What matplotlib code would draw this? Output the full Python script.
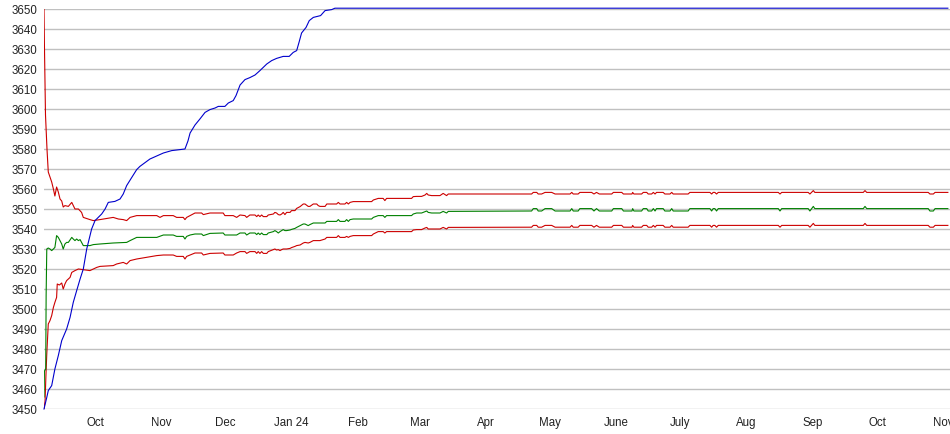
import pandas as pd
import matplotlib
matplotlib.use("Agg")
import matplotlib.pyplot as plt

# x values are days since the first observation
start = pd.Timestamp("2023-09-07")
x_end_day = 424.2

# upper band (red), early part
upper_early_day = [0.0, 0.2, 0.7, 1.4, 2.0, 3.6, 4.4, 5.1, 5.9, 6.7, 7.5, 8.3, 9.0, 9.8, 11.4,
                   13.0, 14.5, 16.1, 17.6, 18.4, 21.5, 23.1, 26.2, 32.4, 34.8, 37.1, 38.7, 40.3,
                   43.4, 52.8, 54.3, 55.9, 60.5, 62.1, 65.2, 66.0, 66.8, 68.4, 70.7, 73.8, 74.6, 77.7]
upper_early = [3650, 3632, 3597, 3580, 3568.5, 3563.5, 3560, 3556.5, 3561, 3558.5, 3555, 3554,
               3551, 3551.7, 3551.3, 3553.3, 3550, 3550, 3548.3, 3545.8, 3544.7, 3544.2, 3544.7,
               3545.8, 3545, 3544.7, 3544.2, 3545.8, 3546.7, 3546.7, 3545.8, 3546.7, 3546.7,
               3545.8, 3545.8, 3544.7, 3545.8, 3546.7, 3548, 3548, 3547.2, 3548]

# middle (green), early part
mid_early_day = [0.0, 0.2, 0.8, 1.0, 1.3, 2.0, 2.8, 3.6, 4.4, 5.1, 5.9, 6.7, 7.5, 8.3, 9.0, 9.8,
                 10.6, 11.4, 13.0, 13.7, 14.5, 15.3, 16.1, 16.9, 17.6, 18.4, 21.5, 23.1, 26.2,
                 32.4, 38.7, 40.3, 43.4, 52.8, 55.9, 60.5, 62.1, 65.2, 66.0, 66.8, 68.4, 70.7,
                 73.8, 74.6, 77.7]
mid_early = [3456, 3469, 3470, 3507, 3530, 3530.5, 3530, 3529.2, 3530, 3530.8, 3536.7, 3535.8,
             3534.2, 3532.5, 3530, 3532.5, 3533.3, 3533.3, 3535.8, 3535, 3534.2, 3535, 3534.2,
             3534.7, 3533.3, 3531.7, 3531.7, 3532.2, 3532.5, 3533, 3533.3, 3534.2, 3535.8,
             3535.8, 3537, 3537, 3536.3, 3536.3, 3535, 3536.3, 3537, 3537.5, 3537.5, 3536.7, 3537.8]

# lower band (red), early part
low_early_day = [0.0, 0.5, 0.9, 1.3, 1.7, 2.0, 2.8, 3.6, 4.4, 5.1, 5.9, 6.2, 7.2, 8.3, 9.0, 9.8,
                 10.6, 12.2, 13.0, 14.5, 16.1, 21.5, 24.7, 26.2, 32.4, 34.0, 37.1, 38.7, 40.3,
                 43.4, 52.8, 55.9, 60.5, 62.1, 65.2, 66.0, 66.8, 68.4, 70.7, 73.8, 74.6, 77.7]
low_early = [3450, 3454, 3466.7, 3477.5, 3486.7, 3492.5, 3494.2, 3496.7, 3500.8, 3503.3, 3505.8,
             3512.5, 3512, 3513, 3510, 3512.5, 3514.2, 3515.8, 3518.3, 3519.2, 3520, 3519.2,
             3520.8, 3521.3, 3521.7, 3522.5, 3523.3, 3522.5, 3524.2, 3525, 3526.7, 3527, 3527,
             3526.3, 3526.3, 3525, 3526.3, 3527, 3528, 3528, 3527, 3527.8]

# the three band lines share sample days from December on
tail_day = [83.9, 84.7, 88.6, 90.2, 91.8, 94.1, 94.9, 96.4, 98.8, 99.6, 100.3, 101.1, 101.9, 102.7,
            104.3, 105.0, 107.4, 108.1, 108.9, 109.7, 110.5, 111.3, 112.0, 112.8, 113.6, 115.2,
            115.9, 117.5, 118.3, 119.9, 121.4, 122.2, 123.7, 124.5, 126.1, 127.7, 128.4, 129.2,
            131.6, 132.4, 137.0, 137.8, 138.6, 140.9, 141.7, 142.5, 143.3, 144.8, 153.4, 154.2,
            156.5, 158.8, 159.6, 160.4, 172.1, 172.9, 174.5, 176.8, 178.4, 179.2, 179.9, 181.5,
            185.4, 186.9, 188.5, 189.3,
            228.3, 229.1, 230.7, 231.4, 233.0, 234.6, 237.7, 239.3, 246.3, 247.1, 247.8, 250.1,
            250.9, 256.4, 257.5, 258.7, 260.0, 265.8, 266.6, 270.5, 271.3, 275.3, 275.6, 276.2,
            279.8, 280.6, 282.2, 282.9, 284.5, 285.3, 286.1, 286.8, 289.9, 290.7, 293.1, 293.9,
            294.6, 301.6, 302.4, 311.8, 312.6, 313.3, 314.1, 314.9, 315.7, 343.8, 344.6, 345.4,
            357.8, 358.6, 360.2, 360.9, 383.6, 384.4, 385.2, 414.0, 414.8, 416.4, 417.2, 423.2]
upper_tail = [3548, 3546.7, 3546.7, 3545.8, 3547, 3546.7, 3545.8, 3547, 3547, 3546.2, 3547, 3546.2,
              3547, 3546.2, 3546.2, 3547, 3547.5, 3548.3, 3548, 3547.2, 3547, 3547.5, 3548.3,
              3547.2, 3548.3, 3548.3, 3549.2, 3549.2, 3550.3, 3551.2, 3552.5, 3552.5, 3551.3,
              3551.3, 3552.5, 3552.5, 3551.7, 3551.3, 3551.3, 3552.5, 3552.5, 3553.3, 3552.5,
              3552.5, 3553.3, 3552.5, 3553.3, 3553.7, 3553.7, 3554.5, 3555.3, 3555.3, 3554.2,
              3555.3, 3555.3, 3556.2, 3556.3, 3556.3, 3557, 3557.8, 3557, 3556.7, 3556.7, 3557.8,
              3556.7, 3557.5,
              3557.5, 3558.3, 3558.3, 3557.5, 3557.5, 3558.3, 3558.3, 3557.5, 3557.5, 3558.3,
              3557.5, 3557.5, 3558.3, 3558.3, 3557.5, 3558.3, 3557.5, 3557.5, 3558.3, 3558.3,
              3557.5, 3557.5, 3558.3, 3557.5, 3557.5, 3558.3, 3558.3, 3557.5, 3557.5, 3558.3,
              3557.5, 3558.3, 3558.3, 3557.5, 3557.5, 3558.3, 3557.5, 3557.5, 3558.3, 3558.3,
              3557.5, 3558.3, 3558.3, 3557.5, 3558.3, 3558.3, 3557.5, 3558.3, 3558.3, 3557.5,
              3559.2, 3558.3, 3558.3, 3559.2, 3558.3, 3558.3, 3557.5, 3557.5, 3558.3, 3558.3]
mid_tail = [3538, 3537, 3537, 3537, 3538, 3538, 3537, 3538, 3538, 3537.2, 3538, 3537.2, 3538,
            3537.2, 3537.2, 3538, 3538.7, 3539.2, 3538.7, 3538, 3538.7, 3539.2, 3539.7, 3539.2,
            3539.2, 3539.5, 3539.8, 3540.3, 3540.8, 3541.7, 3542.5, 3542.5, 3541.7, 3542.2, 3543,
            3543, 3543, 3543, 3543, 3543.8, 3543.8, 3544.7, 3543.8, 3543.8, 3544.7, 3543.8,
            3544.7, 3545, 3545, 3545.8, 3546.7, 3546.7, 3545.8, 3546.7, 3546.7, 3547.5, 3548,
            3548, 3548.7, 3549, 3548.3, 3548, 3548, 3548.8, 3548, 3548.8,
            3549.0, 3550.2, 3550.2, 3549.0, 3549.0, 3550.2, 3550.2, 3549.0, 3549.0, 3550.2,
            3549.0, 3549.0, 3550.2, 3550.2, 3549.0, 3550.2, 3549.0, 3549.0, 3550.2, 3550.2,
            3549.0, 3549.0, 3550.2, 3549.0, 3549.0, 3550.2, 3550.2, 3549.0, 3549.0, 3550.2,
            3549.0, 3550.2, 3550.2, 3549.0, 3549.0, 3550.2, 3549.0, 3549.0, 3550.2, 3550.2,
            3549.0, 3550.2, 3550.2, 3549.0, 3550.2, 3550.2, 3549.0, 3550.2, 3550.2, 3549.0,
            3551.3, 3550.2, 3550.2, 3551.3, 3550.2, 3550.2, 3549.0, 3549.0, 3550.2, 3550.2]
low_tail = [3528, 3527, 3527, 3528, 3528.7, 3528.7, 3527.8, 3528.7, 3528.7, 3527.8, 3528.7,
            3527.8, 3528.7, 3527.8, 3527.8, 3528.7, 3529.7, 3530, 3529.5, 3529.7, 3529.2, 3529.7,
            3530, 3530, 3530, 3530.3, 3530.7, 3531.3, 3531.7, 3532, 3533, 3533.3, 3533, 3533.3,
            3534.2, 3534.2, 3534.2, 3534.2, 3535, 3535.8, 3535.8, 3536.7, 3535.8, 3535.8, 3536.3,
            3535.8, 3536.3, 3536.7, 3536.7, 3537.5, 3538.7, 3538.7, 3538, 3538.7, 3538.7, 3539.5,
            3539.7, 3539.7, 3540.5, 3540.8, 3540, 3540, 3540, 3540.8, 3540, 3540.8,
            3540.9, 3541.8, 3541.8, 3540.9, 3540.9, 3541.8, 3541.8, 3540.9, 3540.9, 3541.8,
            3540.9, 3540.9, 3541.8, 3541.8, 3540.9, 3541.8, 3540.9, 3540.9, 3541.8, 3541.8,
            3540.9, 3540.9, 3541.8, 3540.9, 3540.9, 3541.8, 3541.8, 3540.9, 3540.9, 3541.8,
            3540.9, 3541.8, 3541.8, 3540.9, 3540.9, 3541.8, 3540.9, 3540.9, 3541.8, 3541.8,
            3540.9, 3541.8, 3541.8, 3540.9, 3541.8, 3541.8, 3540.9, 3541.8, 3541.8, 3540.9,
            3542.8, 3541.8, 3541.8, 3542.8, 3541.8, 3541.8, 3540.9, 3540.9, 3541.8, 3541.8]

# running total (blue)
blue_day = [0.0, 1.3, 2.0, 3.6, 5.1, 6.7, 8.3, 10.6, 12.2, 13.7, 15.3, 16.9, 18.4, 20.0, 22.3,
            23.9, 25.4, 27.0, 28.6, 30.1, 33.2, 35.6, 37.1, 38.7, 41.1, 43.4, 44.9, 49.6, 55.9,
            59.8, 66.0, 67.4, 68.4, 70.7, 73.0, 75.4, 77.7, 80.1, 81.6, 84.7, 86.3, 88.6, 89.9,
            91.8, 94.1, 96.4, 98.8, 101.1, 104.3, 106.6, 108.9, 112.0, 114.8, 116.7, 118.3,
            119.4, 120.6, 122.7, 124.2, 126.1, 129.5, 131.6, 134.7, 136.2, 423.2]
blue_val = [3450, 3455.8, 3459.2, 3461.7, 3470, 3476.7, 3484.2, 3490, 3495.8, 3503.3, 3509.2,
            3515, 3520, 3530, 3540, 3544.2, 3545.8, 3547.5, 3550, 3553.3, 3553.8, 3555, 3557.5,
            3561.7, 3565.8, 3569.7, 3571.3, 3575, 3578, 3579.2, 3580, 3584, 3588, 3592, 3595,
            3598.3, 3599.7, 3600.5, 3601.3, 3601.3, 3603, 3604.2, 3606.7, 3612, 3614.7, 3615.7,
            3617, 3619.2, 3622.5, 3624.2, 3625.3, 3626.3, 3626.3, 3628.3, 3629.2, 3633.3, 3638,
            3640.8, 3644.2, 3645.8, 3646.7, 3649.2, 3649.7, 3650.4, 3650.4]

month_ticks = ["2023-10-01", "2023-11-01", "2023-12-01", "2024-01-01", "2024-02-01", "2024-03-01",
               "2024-04-01", "2024-05-01", "2024-06-01", "2024-07-01", "2024-08-01", "2024-09-01",
               "2024-10-01", "2024-11-01"]
month_labels = ["Oct", "Nov", "Dec", "Jan 24", "Feb", "Mar", "Apr", "May", "June", "July", "Aug",
                "Sep", "Oct", "Nov"]
y_ticks = list(range(3450, 3651, 10))


def to_dates(days):
    return start + pd.to_timedelta(days, unit="D")


plt.rcParams["font.family"] = ["Liberation Sans", "DejaVu Sans"]

fig = plt.figure(figsize=(9.5, 4.35), dpi=100)
ax = fig.add_axes([44 / 950, 25 / 435, 906 / 950, 400 / 435])

red = "#cc0000"
ax.plot(to_dates(upper_early_day + tail_day), upper_early + upper_tail, color=red, lw=0.8)
ax.plot(to_dates(low_early_day + tail_day), low_early + low_tail, color=red, lw=0.8)
ax.plot(to_dates(mid_early_day + tail_day), mid_early + mid_tail, color="#008000", lw=0.8)
ax.plot(to_dates(blue_day), blue_val, color="#0000cc", lw=0.8, clip_on=False)

ax.set_ylim(3450, 3650)
ax.set_xlim(start, start + pd.Timedelta(days=x_end_day))
ax.set_yticks(y_ticks)
ax.set_xticks(pd.to_datetime(month_ticks))
ax.set_xticklabels(month_labels)
ax.grid(axis="y", color="#c0c0c0", lw=1)
ax.set_axisbelow(True)
for s in ax.spines.values():
    s.set_visible(False)
ax.tick_params(axis="both", length=0, labelsize=8.3, colors="#222222")
ax.tick_params(axis="y", pad=5)
ax.tick_params(axis="x", pad=5)

fig.savefig("out.png", dpi=100)
